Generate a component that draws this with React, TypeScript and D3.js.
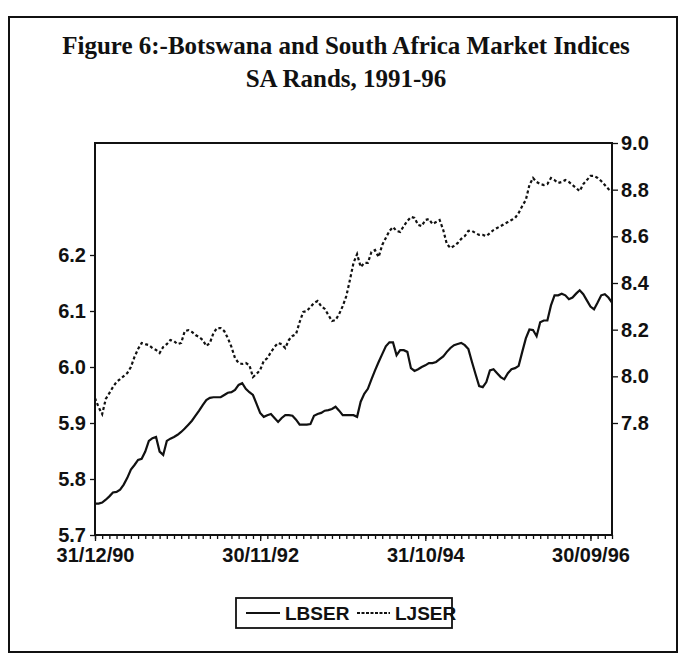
import React, { useEffect, useRef } from 'react';
import * as d3 from 'd3';

// semi-monthly observations, 31/12/90 .. 31/12/96
const lbser = [
  5.756, 5.756, 5.758, 5.763, 5.769, 5.776, 5.777, 5.781, 5.790, 5.802,
  5.817, 5.825, 5.834, 5.836, 5.849, 5.868, 5.873, 5.875, 5.849, 5.843,
  5.868, 5.872, 5.875, 5.879, 5.884, 5.890, 5.897, 5.904, 5.913, 5.922,
  5.932, 5.941, 5.945, 5.946, 5.946, 5.946, 5.950, 5.954, 5.955, 5.959,
  5.968, 5.971, 5.961, 5.955, 5.950, 5.934, 5.918, 5.911, 5.914, 5.916,
  5.909, 5.902, 5.909, 5.914, 5.914, 5.913, 5.906, 5.897, 5.897, 5.897,
  5.898, 5.913, 5.916, 5.918, 5.922, 5.923, 5.925, 5.929, 5.922, 5.914,
  5.914, 5.914, 5.914, 5.911, 5.938, 5.952, 5.961, 5.978, 5.994, 6.009,
  6.023, 6.037, 6.044, 6.044, 6.021, 6.030, 6.030, 6.027, 5.998, 5.993,
  5.996, 6.000, 6.003, 6.007, 6.007, 6.009, 6.014, 6.019, 6.027, 6.034,
  6.039, 6.041, 6.043, 6.039, 6.032, 6.009, 5.987, 5.966, 5.964, 5.973,
  5.994, 5.996, 5.989, 5.982, 5.978, 5.989, 5.996, 5.998, 6.002, 6.027,
  6.051, 6.067, 6.066, 6.055, 6.080, 6.083, 6.083, 6.110, 6.128, 6.128,
  6.131, 6.128, 6.121, 6.124, 6.131, 6.137, 6.130, 6.119, 6.108, 6.103,
  6.115, 6.128, 6.130, 6.124, 6.115,
];

const ljser = [
  7.907, 7.868, 7.838, 7.903, 7.928, 7.954, 7.976, 7.988, 8.001, 8.014,
  8.040, 8.083, 8.117, 8.143, 8.138, 8.134, 8.121, 8.113, 8.100, 8.126,
  8.138, 8.156, 8.151, 8.138, 8.143, 8.194, 8.198, 8.190, 8.177, 8.168,
  8.156, 8.130, 8.143, 8.186, 8.207, 8.207, 8.194, 8.164, 8.126, 8.078,
  8.057, 8.053, 8.057, 8.048, 7.997, 8.010, 8.027, 8.066, 8.078, 8.104,
  8.126, 8.143, 8.138, 8.121, 8.156, 8.173, 8.181, 8.233, 8.276, 8.280,
  8.297, 8.314, 8.323, 8.301, 8.289, 8.263, 8.237, 8.241, 8.267, 8.301,
  8.344, 8.413, 8.486, 8.524, 8.469, 8.486, 8.486, 8.533, 8.541, 8.511,
  8.563, 8.593, 8.623, 8.640, 8.623, 8.619, 8.644, 8.666, 8.683, 8.679,
  8.649, 8.644, 8.670, 8.674, 8.653, 8.661, 8.670, 8.627, 8.567, 8.550,
  8.559, 8.571, 8.589, 8.601, 8.623, 8.623, 8.614, 8.606, 8.606, 8.601,
  8.614, 8.627, 8.636, 8.644, 8.653, 8.661, 8.670, 8.679, 8.700, 8.730,
  8.756, 8.820, 8.850, 8.833, 8.824, 8.820, 8.824, 8.850, 8.841, 8.829,
  8.833, 8.841, 8.833, 8.820, 8.807, 8.794, 8.824, 8.841, 8.859, 8.859,
  8.850, 8.837, 8.820, 8.803, 8.790,
];

const dateLabels = ['31/12/90', '30/11/92', '31/10/94', '30/09/96'];
const dateLabelObs = [0, 46, 92, 138];
const leftTicks = [5.7, 5.8, 5.9, 6.0, 6.1, 6.2];
const rightTicks = [7.8, 8.0, 8.2, 8.4, 8.6, 8.8, 9.0];

function Chart() {
  const ref = useRef<SVGSVGElement>(null);
  const width = 680;
  const height = 658;

  useEffect(() => {
    const svg = d3.select(ref.current);
    svg.selectAll('*').remove();

    const left = 95, right = 612, top = 143, bottom = 535;
    const sans = "'Liberation Sans', Arial, sans-serif";

    const x = d3.scaleLinear().domain([0, lbser.length - 1]).range([left, right]);
    const yL = d3.scaleLinear().domain([5.7, 6.4]).range([bottom, top]);
    const yR = d3.scaleLinear().domain([7.32, 9.0]).range([bottom, top]);

    // outer frame
    svg.append('rect')
      .attr('x', 9).attr('y', 17)
      .attr('width', 668).attr('height', 635)
      .attr('fill', 'none').attr('stroke', '#111').attr('stroke-width', 2);

    // title
    const title = svg.append('g')
      .attr('font-family', "'Liberation Serif', 'Times New Roman', serif")
      .attr('font-weight', 'bold')
      .attr('font-size', 25)
      .attr('fill', '#111')
      .attr('text-anchor', 'middle');
    title.append('text').attr('x', 346).attr('y', 54)
      .text('Figure 6:-Botswana and South Africa Market Indices');
    title.append('text').attr('x', 346).attr('y', 87)
      .text('SA Rands, 1991-96');

    // plot frame
    svg.append('rect')
      .attr('x', left).attr('y', top)
      .attr('width', right - left).attr('height', bottom - top)
      .attr('fill', 'none').attr('stroke', '#111').attr('stroke-width', 2);

    // left axis
    const gl = svg.append('g')
      .attr('transform', `translate(${left},0)`)
      .call(d3.axisLeft(yL).tickValues(leftTicks).tickFormat(d3.format('.1f')).tickSize(5).tickPadding(4));
    gl.select('.domain').remove();

    // right axis
    const gr = svg.append('g')
      .attr('transform', `translate(${right},0)`)
      .call(d3.axisRight(yR).tickValues(rightTicks).tickFormat(d3.format('.1f')).tickSize(6).tickPadding(3));
    gr.select('.domain').remove();

    // bottom axis: monthly minor ticks, labels at major dates
    const minor = d3.range(0, lbser.length, 2);
    const gb = svg.append('g')
      .attr('transform', `translate(0,${bottom})`)
      .call(d3.axisBottom(x).tickValues(minor).tickFormat(() => '').tickSize(4));
    gb.select('.domain').remove();
    const gm = svg.append('g')
      .attr('transform', `translate(0,${bottom})`)
      .call(d3.axisBottom(x).tickValues(dateLabelObs)
        .tickFormat((d, i) => dateLabels[i]).tickSize(6).tickPadding(7));
    gm.select('.domain').remove();

    svg.selectAll('.tick line').attr('stroke', '#111').attr('stroke-width', 1.3);
    svg.selectAll('.tick text')
      .attr('font-family', sans)
      .attr('font-weight', 'bold')
      .attr('font-size', 20)
      .attr('fill', '#111');

    // series
    const lineL = d3.line<number>().x((d, i) => x(i)).y(d => yL(d));
    const lineR = d3.line<number>().x((d, i) => x(i)).y(d => yR(d));

    svg.append('path')
      .datum(ljser)
      .attr('d', lineR)
      .attr('fill', 'none')
      .attr('stroke', '#111')
      .attr('stroke-width', 2.2)
      .attr('stroke-dasharray', '3,2.5');

    svg.append('path')
      .datum(lbser)
      .attr('d', lineL)
      .attr('fill', 'none')
      .attr('stroke', '#111')
      .attr('stroke-width', 2.2);

    // legend
    const lg = svg.append('g').attr('transform', 'translate(236,598)');
    lg.append('rect')
      .attr('width', 216).attr('height', 30)
      .attr('fill', 'white').attr('stroke', '#111').attr('stroke-width', 1.8);
    lg.append('line')
      .attr('x1', 10).attr('x2', 44).attr('y1', 15).attr('y2', 15)
      .attr('stroke', '#111').attr('stroke-width', 2);
    lg.append('text')
      .attr('x', 49).attr('y', 22)
      .attr('font-family', sans).attr('font-weight', 'bold').attr('font-size', 19).attr('fill', '#111')
      .text('LBSER');
    lg.append('line')
      .attr('x1', 121).attr('x2', 154).attr('y1', 15).attr('y2', 15)
      .attr('stroke', '#111').attr('stroke-width', 2)
      .attr('stroke-dasharray', '3,1.5');
    lg.append('text')
      .attr('x', 159).attr('y', 22)
      .attr('font-family', sans).attr('font-weight', 'bold').attr('font-size', 19).attr('fill', '#111')
      .text('LJSER');
  }, []);

  return (
    <svg
      ref={ref}
      width={width}
      height={height}
      style={{ position: 'absolute', left: 0, top: 0, background: 'white' }}
    />
  );
}

export default function App() {
  return <Chart />;
}
